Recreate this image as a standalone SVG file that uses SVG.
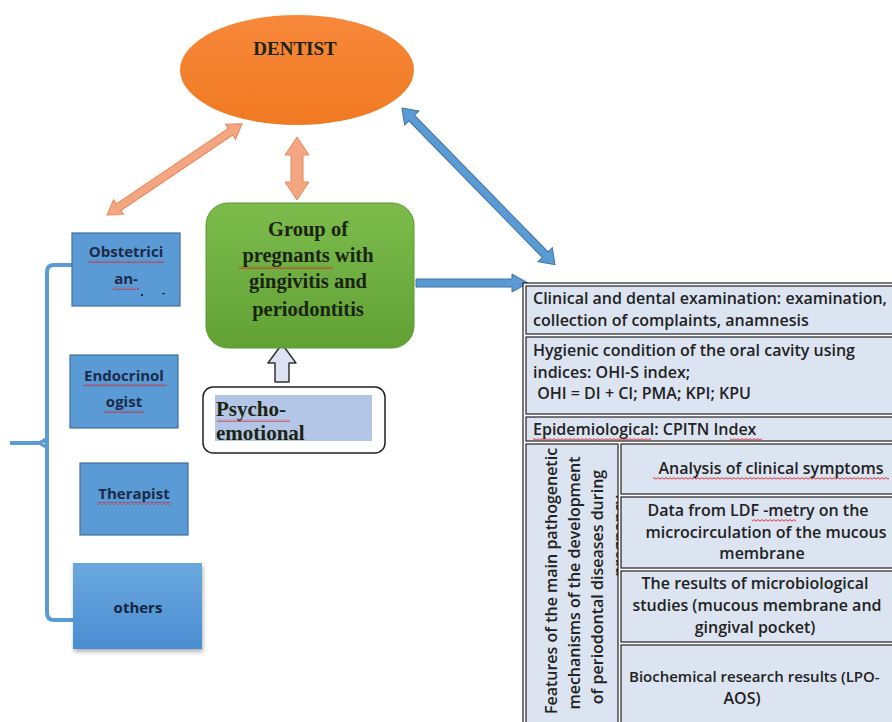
<svg xmlns="http://www.w3.org/2000/svg" width="892" height="722" viewBox="0 0 892 722">
<style>
.serif{font-family:"Liberation Serif","DejaVu Serif",serif;font-weight:bold;fill:#1a2410}
.lbl{font-family:"Open Sans","Noto Sans",sans-serif;font-weight:bold;font-size:15px;fill:#1c2a4a;text-anchor:middle}
.tb{font-family:"Open Sans","Noto Sans",sans-serif;font-weight:600;font-size:16px;fill:#222}
.tc{text-anchor:middle}
.cell{fill:#dce4f1;stroke:#222;stroke-width:1.2}
.sbox{fill:#5b9bd5;stroke:#41719c;stroke-width:1.2}
.oarr{fill:#f4a582;stroke:#e58a5c;stroke-width:1}
.barr{fill:#5b9bd5;stroke:#41719c;stroke-width:1}
.wav{fill:url(#wave)}
</style>
<defs>
<pattern id="wave" width="4" height="3" patternUnits="userSpaceOnUse">
<path d="M0 2.2 L2 0.6 L4 2.2" fill="none" stroke="#d42020" stroke-width="0.9"/>
</pattern>
<linearGradient id="gEll" x1="0" y1="0" x2="0" y2="1">
<stop offset="0" stop-color="#f7883a"/><stop offset="1" stop-color="#f07a22"/>
</linearGradient>
<linearGradient id="gGreen" x1="0" y1="0" x2="0" y2="1">
<stop offset="0" stop-color="#7cbb4c"/><stop offset="1" stop-color="#62a235"/>
</linearGradient>
<linearGradient id="gOth" x1="0" y1="0" x2="0" y2="1">
<stop offset="0" stop-color="#6aa8de"/><stop offset="1" stop-color="#4a8ed2"/>
</linearGradient>
<filter id="sh" x="-10%" y="-10%" width="125%" height="130%">
<feDropShadow dx="1" dy="3" stdDeviation="2" flood-color="#000" flood-opacity="0.3"/>
</filter>
<clipPath id="clipL"><rect x="526" y="444" width="92" height="290"/></clipPath>
</defs>

<g id="connectors">
<path d="M72,265 L54,265 Q47,265 47,272 L47,613 Q47,620 54,620 L74,620" fill="none" stroke="#5b9bd5" stroke-width="4"/>
<path d="M10,443 L40,443 L47,439 L47,447 L40,443" fill="none" stroke="#5b9bd5" stroke-width="4" stroke-linejoin="round"/>
<path class="oarr" transform="translate(107,215) rotate(-34)" d="M0,0 L14,-9 L14,-4 L149,-4 L149,-9 L163,0 L149,9 L149,4 L14,4 L14,9 Z"/>
<path class="oarr" d="M297,137 L309,155 L303,155 L303,182 L309,182 L297,200 L285,182 L291,182 L291,155 L285,155 Z"/>
<path class="barr" transform="translate(402,108) rotate(45.7)" d="M0,0 L14,-10 L14,-4 L205,-4 L205,-10 L219,0 L205,10 L205,4 L14,4 L14,10 Z"/>
<path class="barr" d="M416,279 L512,279 L512,274 L528,283 L512,292 L512,287 L416,287 Z"/>
<path d="M282,344 L296,363 L289,363 L289,382 L275,382 L275,363 L268,363 Z" fill="#dde3f5" stroke="#333" stroke-width="1.5" stroke-linejoin="round"/>
</g>

<g id="dentist">
<ellipse cx="297" cy="70" rx="117" ry="55" fill="url(#gEll)"/>
<text class="serif" x="295" y="55" font-size="19" text-anchor="middle">DENTIST</text>
</g>

<g id="group">
<rect x="206" y="203" width="208" height="145" rx="22" fill="url(#gGreen)" stroke="#5a9a30" stroke-width="1"/>
<text class="serif" font-size="20.5" text-anchor="middle"><tspan x="308" y="236">Group of</tspan><tspan x="308" y="262">pregnants with</tspan><tspan x="308" y="288">gingivitis and</tspan><tspan x="308" y="316">periodontitis</tspan></text>
<rect class="wav" x="239" y="266" width="94" height="3"/>
</g>

<g id="psycho">
<rect x="203" y="387" width="182" height="66" rx="10" fill="#fff" stroke="#222" stroke-width="1.5"/>
<rect x="215" y="395" width="157" height="46" fill="#b4c6e7"/>
<text class="serif" font-size="21"><tspan x="216" y="416">Psycho-</tspan><tspan x="216" y="440">emotional</tspan></text>
<rect class="wav" x="217" y="419" width="73" height="3"/>
</g>

<g id="obstetrician">
<rect class="sbox" x="72" y="233" width="108" height="73"/>
<text class="lbl"><tspan x="126" y="257">Obstetrici</tspan><tspan x="126" y="284">an-</tspan></text>
<rect x="141" y="294" width="2" height="2" fill="#1c2a4a"/>
<rect x="162" y="293" width="3" height="1.2" fill="#1c2a4a"/>
<rect class="wav" x="88" y="260" width="76" height="3"/>
<rect class="wav" x="113" y="287" width="26" height="3"/>
</g>

<g id="endocrinologist">
<rect class="sbox" x="70" y="355" width="108" height="73"/>
<text class="lbl"><tspan x="124" y="381">Endocrinol</tspan><tspan x="124" y="407">ogist</tspan></text>
<rect class="wav" x="83" y="384" width="84" height="3"/>
<rect class="wav" x="104" y="410" width="40" height="3"/>
</g>

<g id="therapist">
<rect class="sbox" x="80" y="463" width="108" height="72"/>
<text class="lbl" x="134" y="499">Therapist</text>
<rect class="wav" x="97" y="502" width="74" height="3"/>
</g>

<g id="others">
<rect x="73" y="563" width="129" height="86" fill="url(#gOth)" filter="url(#sh)"/>
<text class="lbl" x="138" y="613" style="fill:#14233f">others</text>
</g>

<g id="table">
<rect x="523" y="283" width="380" height="450" fill="#fff" stroke="#222" stroke-width="1.2"/>
<rect class="cell" x="526" y="286" width="374" height="48"/>
<rect class="cell" x="526" y="337" width="374" height="77"/>
<rect class="cell" x="526" y="417" width="374" height="24"/>
<rect class="cell" x="526" y="444" width="92" height="290"/>
<rect class="cell" x="621" y="444" width="280" height="50"/>
<rect class="cell" x="621" y="497" width="280" height="71"/>
<rect class="cell" x="621" y="571" width="280" height="71"/>
<rect class="cell" x="621" y="645" width="280" height="90"/>

<text class="tb"><tspan x="533" y="304">Clinical and dental examination: examination,</tspan><tspan x="533" y="326">collection of complaints, anamnesis</tspan></text>
<text class="tb"><tspan x="533" y="356">Hygienic condition of the oral cavity using</tspan><tspan x="533" y="378">indices: OHI-S index;</tspan><tspan x="533" y="399"> OHI = DI + CI; PMA; KPI; KPU</tspan></text>
<text class="tb" x="533" y="435">Epidemiological: CPITN Index</text>
<rect class="wav" x="533" y="438" width="118" height="3"/>
<rect class="wav" x="730" y="438" width="32" height="3"/>

<g clip-path="url(#clipL)">
<text class="tb tc" transform="translate(557,581) rotate(-90)">Features of the main pathogenetic</text>
<text class="tb tc" transform="translate(580,583) rotate(-90)">mechanisms of the development</text>
<text class="tb tc" transform="translate(603,587) rotate(-90)">of periodontal diseases during</text>
<text class="tb tc" transform="translate(625,536) rotate(-90)">pregnancy</text>
</g>

<text class="tb tc" x="771" y="474">Analysis of clinical symptoms</text>
<rect class="wav" x="653" y="477" width="236" height="3"/>
<text class="tb tc"><tspan x="758" y="516">Data from LDF -metry on the</tspan><tspan x="766" y="538">microcirculation of the mucous</tspan><tspan x="762" y="559">membrane</tspan></text>
<rect class="wav" x="752" y="519" width="44" height="3"/>
<text class="tb tc"><tspan x="755" y="589">The results of microbiological</tspan><tspan x="757" y="611">studies (mucous membrane and</tspan><tspan x="755" y="633">gingival pocket)</tspan></text>
<text class="tb" x="629" y="682" style="font-size:15px">Biochemical research results (LPO-</text>
<text class="tb tc" x="742" y="704">AOS)</text>
</g>
</svg>
